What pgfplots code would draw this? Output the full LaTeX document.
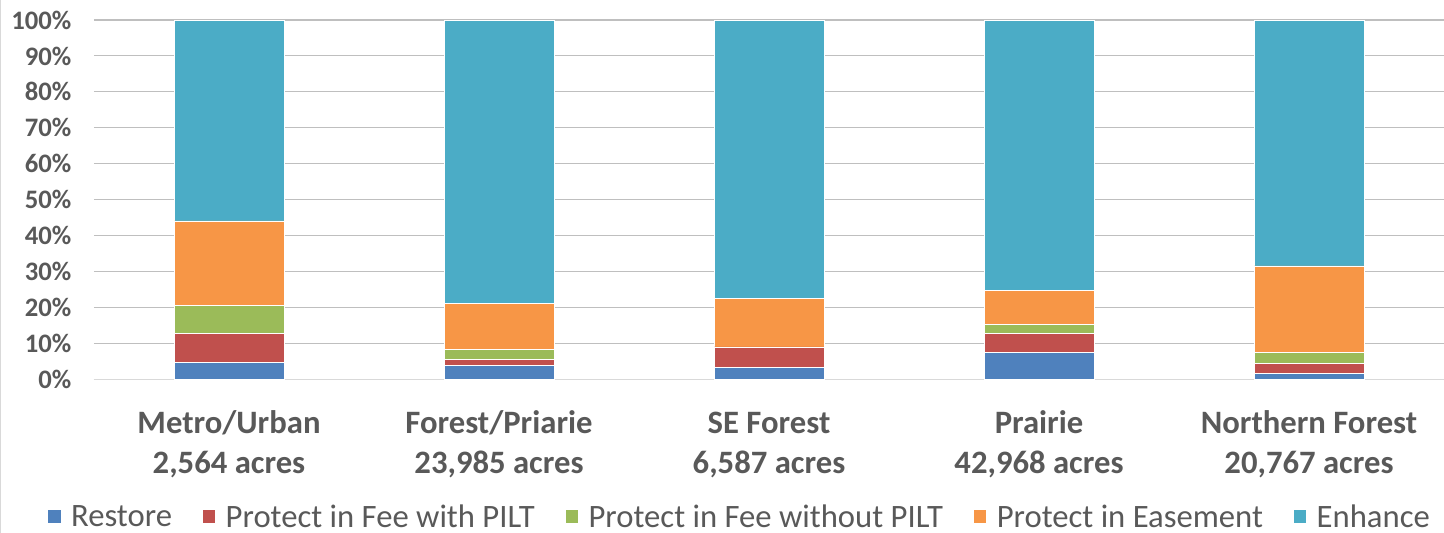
\documentclass[border=0pt]{standalone}
\usepackage{pgfplots}
\pgfplotsset{compat=1.18}
\usepackage{fontspec}
\setmainfont{Carlito}
\definecolor{cRestore}{HTML}{4F81BD}
\definecolor{cPILT}{HTML}{C0504D}
\definecolor{cNoPILT}{HTML}{9BBB59}
\definecolor{cEase}{HTML}{F79646}
\definecolor{cEnh}{HTML}{4BACC6}
\definecolor{txt}{HTML}{595959}
\definecolor{grid}{HTML}{D9D9D9}
\newcommand\sv{\vphantom{Ag/,}}
\begin{document}
\begin{tikzpicture}
\path[use as bounding box] (-70.5pt,-115.1pt) rectangle (1012.5pt,284.6pt);
\draw[grid, line width=0.8pt] (-70.1pt,-115.1pt) -- (-70.1pt,284.6pt);
\begin{axis}[
  at={(0,0)}, anchor=south west,
  scale only axis,
  width=1012.5pt, height=269.6pt,
  ybar stacked,
  bar width=82.5pt,
  xmin=-0.5, xmax=4.5,
  ymin=0, ymax=100,
  xtick=data,
  xticklabels={{\sv Metro/Urban\\\sv 2,564 acres},{\sv Forest/Priarie\\\sv 23,985 acres},{\sv SE Forest\\\sv 6,587 acres},{\sv Prairie\\\sv 42,968 acres},{\sv Northern Forest\\\sv 20,767 acres}},
  ytick={0,10,...,100},
  yticklabel={\pgfmathprintnumber{\tick}\%},
  /pgf/number format/assume math mode=true,
  yticklabel style={font=\fontsize{20}{22}\selectfont\bfseries, text=txt, anchor=east, xshift=-13.5pt},
  xticklabel style={font=\fontsize{24.5}{29.5}\selectfont\bfseries, text=txt, align=center, yshift=-20pt},
  major tick length=0pt,
  axis x line*=bottom,
  axis y line*=left,
  y axis line style={draw=none},
  x axis line style={grid, line width=0.8pt, -},
  ymajorgrids,
  grid style={grid, line width=0.8pt},
  legend style={at={(0.4785,-0.382)}, anchor=center, draw=none, fill=none,
    legend columns=-1, font=\fontsize{24.5}{28}\selectfont, text=txt,
    /tikz/every odd column/.append style={column sep=5.5pt},
    /tikz/every even column/.append style={column sep=20.5pt}},
  legend image code/.code={\fill[#1] (0pt,-4.5pt) rectangle (10pt,5.5pt);},
  legend cell align=left,
  every axis plot/.append style={draw=white, line width=0.3pt},
]
\addplot[fill=cRestore] coordinates {(0,4.8) (1,3.9) (2,3.4) (3,7.5) (4,1.7)};
\addplot[fill=cPILT] coordinates {(0,8.0) (1,1.7) (2,5.7) (3,5.3) (4,2.7)};
\addplot[fill=cNoPILT] coordinates {(0,7.8) (1,2.7) (2,0.0) (3,2.6) (4,3.1)};
\addplot[fill=cEase] coordinates {(0,23.5) (1,12.9) (2,13.4) (3,9.3) (4,24.1)};
\addplot[fill=cEnh] coordinates {(0,55.9) (1,78.8) (2,77.5) (3,75.3) (4,68.4)};
\legend{Restore, Protect in Fee with PILT, Protect in Fee without PILT, Protect in Easement, Enhance}
\end{axis}
\end{tikzpicture}
\end{document}
